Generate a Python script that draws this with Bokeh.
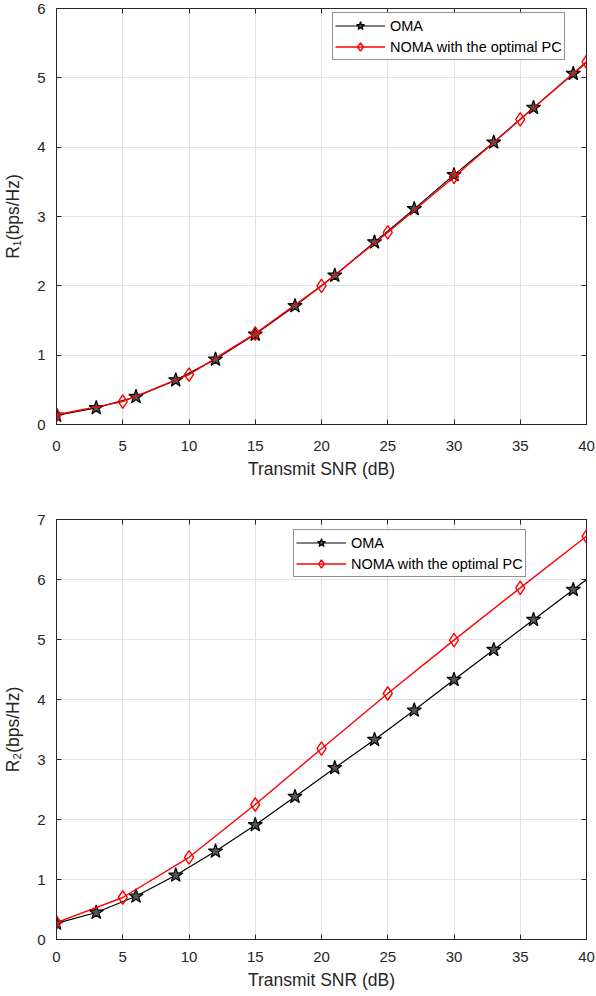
import numpy as np
from bokeh.plotting import figure
from bokeh.layouts import column
from bokeh.models import (Range1d, SingleIntervalTicker, LinearAxis, Legend, LegendItem,
                          CustomJSTickFormatter)
from bokeh.embed import file_html
from bokeh.resources import INLINE

# ---------------- data ----------------
oma_snr = [0, 3, 6, 9, 12, 15, 18, 21, 24, 27, 30, 33, 36, 39, 40]
noma_snr = [0, 5, 10, 15, 20, 25, 30, 35, 40]

r1_oma = [0.13, 0.24, 0.40, 0.64, 0.94, 1.30, 1.71, 2.15, 2.63, 3.11, 3.60, 4.07, 4.57, 5.06, 5.22]
r1_noma = [0.14, 0.33, 0.72, 1.31, 2.00, 2.77, 3.57, 4.40, 5.23]

r2_oma = [0.27, 0.45, 0.72, 1.07, 1.47, 1.91, 2.38, 2.86, 3.33, 3.82, 4.33, 4.83, 5.33, 5.83, 6.00]
r2_noma = [0.28, 0.70, 1.37, 2.25, 3.18, 4.10, 4.99, 5.86, 6.72]

x_label = "Transmit SNR (dB)"
y1_label = "R\u2081(bps/Hz)"
y2_label = "R\u2082(bps/Hz)"
oma_name = "OMA"
noma_name = "NOMA with the optimal PC"

FONT = "Liberation Sans"
AX = "#262626"


def make_fig(height, ymax, min_top, min_bottom, ylab, oma_y, noma_y, leg_xy, tick_stand):
    p = figure(width=596, height=height, output_backend="svg", toolbar_location=None,
               x_range=Range1d(0, 40), y_range=Range1d(0, ymax),
               min_border_left=55, min_border_right=10,
               min_border_top=min_top, min_border_bottom=min_bottom,
               x_axis_label=x_label, y_axis_label=ylab)
    p.outline_line_color = AX
    p.outline_line_width = 1
    p.xaxis.ticker = SingleIntervalTicker(interval=5)
    p.yaxis.ticker = SingleIntervalTicker(interval=1)
    for ax in [p.xaxis[0], p.yaxis[0]]:
        ax.axis_line_color = AX
        ax.major_tick_line_color = AX
        ax.major_tick_in = 5
        ax.major_tick_out = 0
        ax.minor_tick_line_color = None
        ax.major_label_text_font = FONT
        ax.major_label_text_font_size = "15px"
        ax.major_label_text_color = AX
        ax.axis_label_text_font = FONT
        ax.axis_label_text_font_size = "17.5px"
        ax.axis_label_text_font_style = "normal"
        ax.axis_label_text_color = AX
    p.xaxis.major_label_standoff = tick_stand
    p.yaxis.major_label_standoff = 7
    p.xaxis.axis_label_standoff = 5
    p.yaxis.axis_label_standoff = 11

    # mirrored tick marks on top and right (MATLAB box style), no labels
    blank = CustomJSTickFormatter(code="return ''")
    top = LinearAxis(ticker=SingleIntervalTicker(interval=5), formatter=blank)
    right = LinearAxis(ticker=SingleIntervalTicker(interval=1), formatter=blank)
    for ax in [top, right]:
        ax.axis_line_color = None
        ax.major_tick_line_color = AX
        ax.major_tick_in = 5
        ax.major_tick_out = 0
        ax.minor_tick_line_color = None
        ax.major_label_standoff = 0
    p.add_layout(top, "above")
    p.add_layout(right, "right")

    p.xgrid.grid_line_color = "#e3e3e3"
    p.ygrid.grid_line_color = "#e3e3e3"

    l1 = p.line(oma_snr, oma_y, line_color="black", line_width=1.2)
    s1 = p.scatter(oma_snr[:-1], oma_y[:-1], marker="star", size=15,
                   line_color="black", fill_color="#555555", line_width=1.2)
    l2 = p.line(noma_snr, noma_y, line_color="red", line_width=1.4)
    s2 = p.scatter(noma_snr, noma_y, marker="diamond", size=13.5,
                   line_color="red", fill_color=None, line_width=1.4)

    leg = Legend(items=[LegendItem(label=oma_name, renderers=[l1, s1]),
                        LegendItem(label=noma_name, renderers=[l2, s2])],
                 location=leg_xy)
    leg.label_text_font = FONT
    leg.label_text_font_size = "14.5px"
    leg.label_text_color = "black"
    leg.glyph_width = 50
    leg.glyph_height = 21
    leg.label_height = 20
    leg.label_standoff = 5
    leg.spacing = 0
    leg.padding = 2
    leg.margin = 0
    leg.border_line_color = AX
    leg.border_line_width = 1
    leg.background_fill_color = "white"
    leg.background_fill_alpha = 1
    p.add_layout(leg)
    return p


p1 = make_fig(490, 6, 8, 66, y1_label, r1_oma, r1_noma, (276, 364), 12)
p2 = make_fig(506, 7, 29, 57, y2_label, r2_oma, r2_noma, (237, 362), 8)

layout = column(p1, p2)
open("out.html", "w").write(file_html(layout, INLINE))
